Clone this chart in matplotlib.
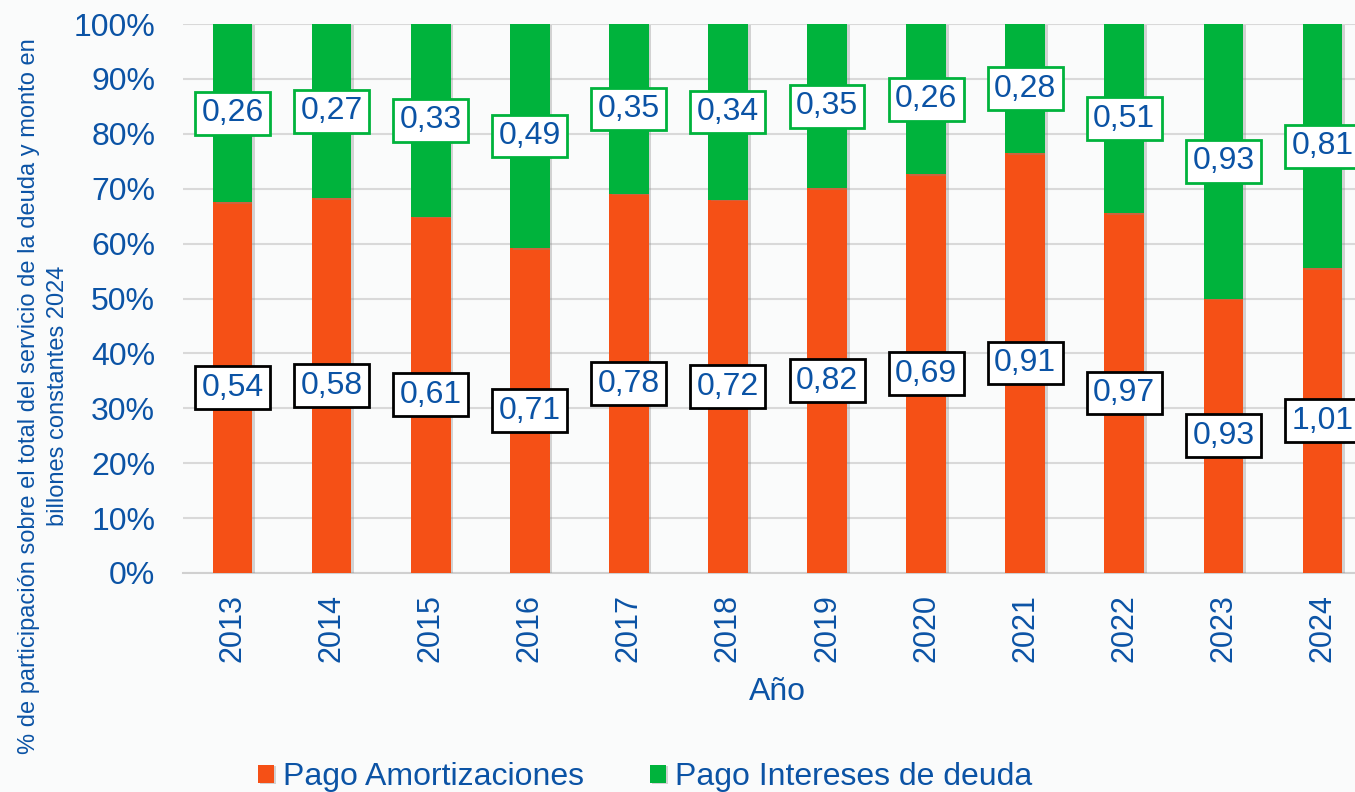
import numpy as np
import matplotlib.pyplot as plt
import matplotlib.patheffects as pe

plt.rcParams['font.family'] = ['Liberation Sans', 'DejaVu Sans']

# --- Data (billones constantes 2024) ---
years = ['2013', '2014', '2015', '2016', '2017', '2018',
         '2019', '2020', '2021', '2022', '2023', '2024']
amortizaciones = np.array([0.54, 0.58, 0.61, 0.71, 0.78, 0.72,
                           0.82, 0.69, 0.91, 0.97, 0.93, 1.01])
intereses = np.array([0.26, 0.27, 0.33, 0.49, 0.35, 0.34,
                      0.35, 0.26, 0.28, 0.51, 0.93, 0.81])

total = amortizaciones + intereses
pct_amort = amortizaciones / total * 100
pct_int = intereses / total * 100

BLUE = '#0B53A5'
ORANGE = '#F55016'
GREEN = '#00B33C'

fig = plt.figure(figsize=(13.55, 7.92), dpi=100, facecolor='#FAFBFB')
ax = fig.add_axes([183 / 1355, 219 / 792, 1189 / 1355, 549 / 792])
ax.set_facecolor('none')

x = np.arange(len(years))
shadow = [pe.SimplePatchShadow(offset=(2, -1), shadow_rgbFace='#888888', alpha=0.35), pe.Normal()]
b1 = ax.bar(x, pct_amort, width=0.4, color=ORANGE, zorder=3, label='Pago Amortizaciones')
b2 = ax.bar(x, pct_int, width=0.4, bottom=pct_amort, color=GREEN, zorder=3,
            label='Pago Intereses de deuda')
for p in list(b1) + list(b2):
    p.set_path_effects(shadow)

# value labels centered in each segment
for i in range(len(years)):
    ax.text(x[i], pct_amort[i] / 2, f"{amortizaciones[i]:.2f}".replace('.', ','),
            ha='center', va='center', fontsize=23, color=BLUE, zorder=5,
            bbox=dict(boxstyle='square,pad=0.2', fc='white', ec='black', lw=2))
    ax.text(x[i], pct_amort[i] + pct_int[i] / 2, f"{intereses[i]:.2f}".replace('.', ','),
            ha='center', va='center', fontsize=23, color=BLUE, zorder=5,
            bbox=dict(boxstyle='square,pad=0.2', fc='white', ec=GREEN, lw=2))

ax.set_xlim(-0.5, len(years) - 0.5)
ax.set_ylim(0, 100)
ax.set_yticks(np.arange(0, 101, 10))
ax.set_yticklabels([f"{v}%" for v in range(0, 101, 10)])
ax.set_xticks(x)
ax.set_xticklabels(years, rotation=90)
ax.tick_params(axis='y', length=0, pad=20, labelsize=23, labelcolor=BLUE)
ax.tick_params(axis='x', length=0, pad=15, labelsize=22, labelcolor=BLUE)
ax.grid(axis='y', color='#D9D9D9', lw=1.5, zorder=0)
for s in ['top', 'right', 'left']:
    ax.spines[s].set_visible(False)
ax.spines['bottom'].set_color('#D0D0D0')
ax.spines['bottom'].set_linewidth(1.5)

ax.set_xlabel('Año', fontsize=23, color=BLUE, labelpad=11)
fig.text(0.032, 0.5, '% de participación sobre el total del servicio de la deuda y monto en\nbillones constantes 2024',
         rotation=90, ha='center', va='center', fontsize=17, color=BLUE,
         multialignment='center', linespacing=1.45)

leg = fig.legend(handles=[b1, b2], loc='center', bbox_to_anchor=(645 / 1355, 1 - 777 / 792),
                 ncol=2, frameon=False, fontsize=23, handlelength=0.5, handleheight=0.5,
                 handletextpad=0.3, columnspacing=2.05)
for t in leg.get_texts():
    t.set_color(BLUE)

fig.savefig('out.png', dpi=100, facecolor=fig.get_facecolor())
